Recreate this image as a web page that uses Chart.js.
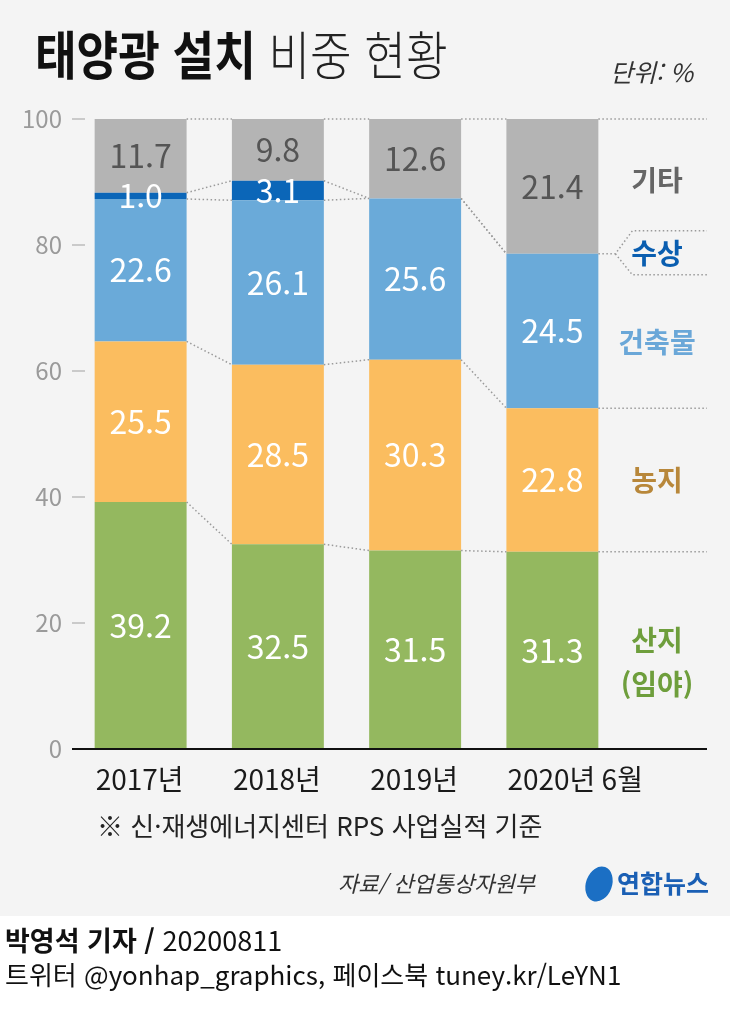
<!DOCTYPE html>
<html lang="ko">
<head>
<meta charset="utf-8">
<script src="https://cdn.jsdelivr.net/npm/chart.js@4.4.1/dist/chart.umd.min.js"></script>
<style>
body { margin:0; width:730px; height:1013px; position:relative; background:#fff; overflow:hidden;
  font-family:"Noto Sans CJK KR", sans-serif; }
#bg { position:absolute; left:0; top:0; width:730px; height:916px; background:#f4f4f4; }
#chart { position:absolute; left:0; top:0; }
.txt { position:absolute; white-space:nowrap; line-height:1; transform-origin:left top; color:#111; }
</style>
</head>
<body>
<div id="bg"></div>
<canvas id="chart" width="730" height="1013"></canvas>

<div class="txt" style="left:35px;top:27px;font-size:52px;transform:scaleX(0.87);"><b>태양광 설치</b> <span style="font-weight:300;color:#222">비중 현황</span></div>
<div class="txt" style="left:610px;top:59px;font-size:25px;font-style:italic;color:#333;">단위: %</div>
<div class="txt" style="left:97px;top:812px;font-size:26px;color:#222;">※ 신·재생에너지센터 RPS 사업실적 기준</div>
<div class="txt" style="left:338px;top:871px;font-size:22px;font-style:italic;color:#333;">자료/ 산업통상자원부</div>
<div style="position:absolute;left:586px;top:866px;width:26px;height:36px;border-radius:50%;background:#1b6fc4;transform:rotate(20deg);"></div>
<div class="txt" style="left:617px;top:870px;font-size:25px;font-weight:bold;color:#1a5fb4;">연합뉴스</div>
<div class="txt" style="left:5px;top:926px;font-size:27px;"><b>박영석 기자 /</b> 20200811</div>
<div class="txt" style="left:5px;top:961px;font-size:26px;">트위터 @yonhap_graphics, 페이스북 tuney.kr/LeYN1</div>

<script>
// 태양광 설치 비중 (%)
var years = ['2017년', '2018년', '2019년', '2020년 6월'];
var sanji = [39.2, 32.5, 31.5, 31.3];     // 산지(임야)
var nongji = [25.5, 28.5, 30.3, 22.8];    // 농지
var geonchuk = [22.6, 26.1, 25.6, 24.5];  // 건축물
var susang = [1.0, 3.1, 0, 0];            // 수상
var gita = [11.7, 9.8, 12.6, 21.4];       // 기타
var yTicks = [0, 20, 40, 60, 80, 100];

var colors = ['#94b85f', '#fbbd5f', '#6aaad9', '#0b66b8', '#b4b4b4'];
var valueColors = ['#fff', '#fff', '#fff', '#fff', '#555'];

// 오른쪽 범례: [이름, 색, y값]
var sideLabels = [
    ['기타', '#666', 90.3],
    ['수상', '#0a5eb0', 78.6],
    ['건축물', '#6aa7d8', 64.6],
    ['농지', '#b8873a', 42.7],
    ['산지', '#6e9e3c', 17.3],
    ['(임야)', '#6e9e3c', 10.2]
];

var KFONT = '"Noto Sans CJK KR", sans-serif';

function dotted(ctx, pts) {
    ctx.beginPath();
    ctx.moveTo(pts[0][0], pts[0][1]);
    for (var i = 1; i < pts.length; i++) ctx.lineTo(pts[i][0], pts[i][1]);
    ctx.stroke();
}

var decoPlugin = {
    id: 'deco',
    afterDatasetsDraw: function (chart) {
        var ctx = chart.ctx;
        var area = chart.chartArea;
        var yScale = chart.scales.y;
        var rightEnd = 707;
        ctx.save();

        // 연결 점선
        ctx.strokeStyle = '#9a9a9a';
        ctx.lineWidth = 1.5;
        ctx.setLineDash([1.5, 2.5]);
        chart.data.datasets.forEach(function (ds, i) {
            var bars = chart.getDatasetMeta(i).data;
            for (var j = 0; j < bars.length - 1; j++) {
                var a = bars[j], b = bars[j + 1];
                dotted(ctx, [[a.x + a.width / 2, a.y], [b.x - b.width / 2, b.y]]);
            }
        });
        // 오른쪽 점선
        var last = years.length - 1;
        var lastBar = function (i) { return chart.getDatasetMeta(i).data[last]; };
        var bx = lastBar(0).x + lastBar(0).width / 2;
        [4, 1, 0].forEach(function (i) {
            dotted(ctx, [[bx, lastBar(i).y], [rightEnd, lastBar(i).y]]);
        });
        var wy = lastBar(2).y;
        dotted(ctx, [[bx, wy], [bx + 17, wy], [bx + 34, wy - 23], [rightEnd, wy - 23]]);
        dotted(ctx, [[bx + 17, wy], [bx + 34, wy + 21], [rightEnd, wy + 21]]);
        ctx.setLineDash([]);

        // y축 눈금
        ctx.strokeStyle = '#bdbdbd';
        ctx.lineWidth = 1.5;
        yTicks.forEach(function (t) {
            var y = yScale.getPixelForValue(t);
            dotted(ctx, [[area.left, y], [area.left + 13, y]]);
        });
        // x축 선
        var y0 = yScale.getPixelForValue(0);
        ctx.strokeStyle = '#111';
        ctx.lineWidth = 2;
        dotted(ctx, [[area.left, y0], [rightEnd, y0]]);

        // 값 표시
        ctx.font = '32px ' + KFONT;
        ctx.textAlign = 'center';
        ctx.textBaseline = 'middle';
        chart.data.datasets.forEach(function (ds, i) {
            chart.getDatasetMeta(i).data.forEach(function (bar, j) {
                var v = ds.data[j];
                if (!v) return;
                ctx.fillStyle = valueColors[i];
                ctx.fillText(v.toFixed(1), bar.x, (bar.y + bar.base) / 2);
            });
        });

        // x축 라벨 (막대 왼쪽 정렬)
        ctx.font = '28px ' + KFONT;
        ctx.textAlign = 'left';
        ctx.fillStyle = '#1a1a1a';
        chart.getDatasetMeta(0).data.forEach(function (bar, j) {
            ctx.fillText(years[j], bar.x - bar.width / 2 + 1, y0 + 30);
        });

        // 오른쪽 범례
        ctx.font = 'bold 28px ' + KFONT;
        ctx.textAlign = 'center';
        sideLabels.forEach(function (s) {
            ctx.fillStyle = s[1];
            ctx.fillText(s[0], 657, yScale.getPixelForValue(s[2]));
        });
        ctx.restore();
    }
};

var series = [sanji, nongji, geonchuk, susang, gita];
var names = ['산지(임야)', '농지', '건축물', '수상', '기타'];

new Chart(document.getElementById('chart'), {
    type: 'bar',
    data: {
        labels: years,
        datasets: series.map(function (d, i) {
            return {
                label: names[i],
                data: d,
                backgroundColor: colors[i],
                borderWidth: 0,
                barPercentage: 0.67,
                categoryPercentage: 1
            };
        })
    },
    options: {
        responsive: false,
        animation: false,
        layout: { padding: { top: 119, right: 109, bottom: 204, left: 0 } },
        plugins: { legend: { display: false }, tooltip: { enabled: false } },
        scales: {
            x: {
                stacked: true,
                grid: { display: false, drawTicks: false },
                border: { display: false },
                ticks: { display: false },
                afterFit: function (s) { s.height = 60; }
            },
            y: {
                stacked: true,
                min: 0,
                max: 100,
                grid: { display: false, drawTicks: false },
                border: { display: false },
                ticks: {
                    stepSize: 20,
                    padding: 10,
                    color: '#9a9a9a',
                    font: { family: KFONT, size: 24 }
                },
                afterFit: function (s) { s.width = 72; }
            }
        }
    },
    plugins: [decoPlugin]
});
</script>
</body>
</html>
